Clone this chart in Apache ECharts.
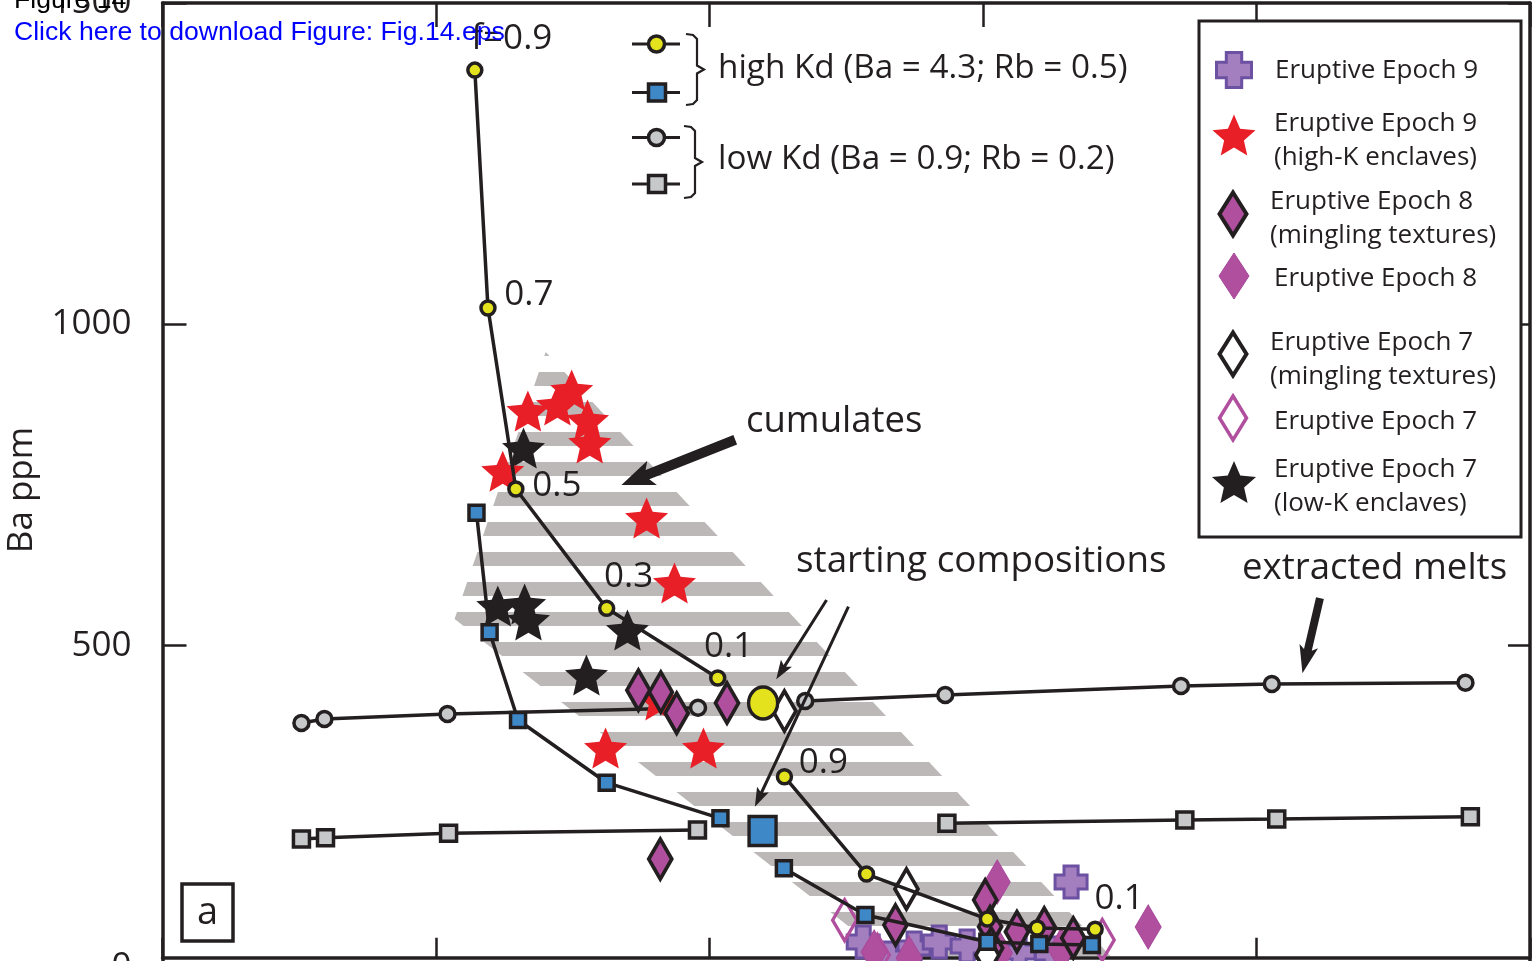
<!DOCTYPE html>
<html>
<head>
<meta charset="utf-8">
<script src="https://cdn.jsdelivr.net/npm/echarts@6/dist/echarts.min.js"></script>
<style>
  html, body { margin: 0; padding: 0; background: #fff; }
  #chart { width: 1534px; height: 961px; }
</style>
</head>
<body>
<div id="chart"></div>
<script>
// Ba (ppm) against Rb (ppm): fractional crystallisation models and enclave / mingled samples

// ---- model curves: [Rb, Ba] at f = 0.1 ... 0.9 ----
const highKdCircleCumulates = [[101.5, 449.8], [81.2, 558.2], [64.6, 743.8], [59.5, 1025.4], [57.1, 1395.6]];
const highKdCircleMelts     = [[113.7, 296.2], [128.7, 144.8], [150.8, 74.8], [159.9, 60.8], [170.5, 58.8]];
const highKdSquareCumulates = [[102.0, 231.5], [81.2, 286.9], [65.0, 384.5], [59.8, 520.9], [57.4, 706.9]];
const highKdSquareMelts     = [[113.6, 153.7], [128.5, 81.1], [150.8, 39.5], [160.3, 35.9], [169.9, 34.4]];
const lowKdCircleCumulates  = [[97.9, 403.5], [52.1, 393.7], [29.6, 386.0], [25.4, 379.7]];
const lowKdCircleMelts      = [[117.5, 414.0], [143.1, 423.3], [186.2, 437.3], [202.8, 440.4], [238.2, 442.4]];
const lowKdSquareCumulates  = [[97.8, 213.3], [52.3, 208.2], [29.8, 201.3], [25.4, 199.3]];
const lowKdSquareMelts      = [[143.4, 223.7], [186.9, 228.8], [203.7, 230.4], [239.1, 234.0]];
const startingCircle = [[109.8, 410.9]];
const startingSquare = [[109.7, 211.7]];

// f labels on the high-Kd circle path
const cumulateFLabels = ['0.1', '0.3', '0.5', '0.7', 'f=0.9'];
const meltFLabels     = ['0.9', '', '', '', '0.1'];

// ---- samples: [Rb, Ba] ----
const epoch9 = [[128.1, 39.0], [137.4, 29.7], [142.0, 39.0], [147.1, 32.8], [156.6, 23.5], [162.5, 21.9], [166.1, 132.4], [132.9, 14.2]];
const epoch9HighK = [[66.8, 865.1], [72.2, 874.4], [74.8, 897.8], [77.7, 851.1], [78.1, 815.3], [62.2, 771.6],
                     [88.5, 698.7], [93.6, 597.6], [81.0, 340.8], [98.9, 340.8], [90.7, 415.6]];
const epoch8Mingling = [[87.0, 430.9], [91.1, 427.8], [94.0, 395.1], [103.2, 410.9], [91.0, 168.0], [134.0, 65.5],
                        [150.4, 104.4], [151.3, 62.8], [156.2, 55.1], [161.2, 60.8], [166.5, 45.3], [151.5, 29.7]];
const epoch8 = [[152.6, 132.4], [180.2, 62.4], [130.1, 23.5], [153.0, 21.9], [164.3, 26.6], [136.5, 14.2]];
const epoch7Mingling = [[113.7, 398.3], [136.0, 121.6], [150.8, 18.8]];
const epoch7 = [[124.7, 73.0], [171.8, 42.2], [130.7, 18.8]];
const epoch7LowK = [[66.0, 807.5], [61.3, 561.7], [66.2, 564.8], [66.9, 539.9], [85.0, 524.3], [77.5, 454.3]];

// outline of the cumulate field [Rb, Ba]
const cumulateOutline = [[70.05, 956.9], [53.4, 541.4], [135.0, 0], [175.2, 0]];

// annotation arrows [Rb, Ba] tail -> tip
const cumulatesArrow = [[104.7, 820.5], [83.9, 750.0]];
const startArrowA = [[121.4, 571.1], [112.2, 447.7]];
const startArrowB = [[125.4, 560.7], [108.3, 249.5]];
const meltsArrow = [[211.6, 574.2], [208.4, 457.1]];

// axis ticks
const xTicks = { min: 0, max: 250, step: 50 };
const yTicks = { min: 0, max: 1500, step: 500 };

// ---------------------------------------------------------------
const INK = '#231f20';
const FONT = '"Open Sans", "Noto Sans", sans-serif';
const YELLOW = '#e4e21c';
const BLUE = '#3f88c8';
const GREY = '#c7c8ca';
const RED = '#e81f27';
const PURPLE = '#b14f9f';
const CROSS_FILL = '#a47fbf';
const CROSS_EDGE = '#6c50a1';
const STRIPE = '#bbb8b7';

// symbol outlines (unit boxes) shared by plot symbols and the key
const STAR_PTS = Array.from({ length: 10 }, (_, i) => {
  const a = (-90 + 36 * i) * Math.PI / 180;
  const r = i % 2 ? 23 : 50;
  return [+(50 + r * Math.cos(a)).toFixed(2), +(50 + r * Math.sin(a)).toFixed(2)];
});
const PLUS_PTS = [[28, 0], [72, 0], [72, 28], [100, 28], [100, 72], [72, 72], [72, 100], [28, 100],
                  [28, 72], [0, 72], [0, 28], [28, 28]];
const DIAMOND_PTS = [[50, 0], [100, 50], [50, 100], [0, 50]];
const toPath = pts => 'path://M' + pts.map(p => p.join(',')).join(' L') + ' Z';
const STAR = toPath(STAR_PTS);
const PLUS = toPath(PLUS_PTS);

const NAMES = {
  e9: 'Eruptive Epoch 9',
  e9k: 'Eruptive Epoch 9\n(high-K enclaves)',
  e8m: 'Eruptive Epoch 8\n(mingling textures)',
  e8: 'Eruptive Epoch 8',
  e7m: 'Eruptive Epoch 7\n(mingling textures)',
  e7: 'Eruptive Epoch 7',
  e7k: 'Eruptive Epoch 7\n(low-K enclaves)'
};

const STYLE = {
  e9:  { color: CROSS_FILL, borderColor: CROSS_EDGE, borderWidth: 3, opacity: 1 },
  e9k: { color: RED, borderWidth: 0, opacity: 1 },
  e8m: { color: PURPLE, borderColor: INK, borderWidth: 4, opacity: 1 },
  e8:  { color: PURPLE, borderColor: '#a6479a', borderWidth: 1, opacity: 1 },
  e7m: { color: '#ffffff', borderColor: INK, borderWidth: 4, opacity: 1 },
  e7:  { color: 'rgba(255,255,255,0)', borderColor: PURPLE, borderWidth: 3.5, opacity: 1 },
  e7k: { color: INK, borderWidth: 0, opacity: 1 }
};

// horizontal hatch used for the cumulate field
const hatch = document.createElement('canvas');
hatch.width = 4; hatch.height = 30;
(function () {
  const g = hatch.getContext('2d');
  g.fillStyle = STRIPE;
  g.fillRect(0, 12, 4, 14);
})();

const fLabelStyle = { show: true, position: 'inside', fontFamily: FONT, fontSize: 35, color: INK };
const cumulateLabelOffsets = [[11, -31], [22, -31], [41, -3], [41, -13], [37, -31]];
const meltLabelOffsets = [[39, -14], null, null, null, [24, -30]];

function labelled(points, texts, offsets) {
  return points.map((p, i) => texts[i]
    ? { value: p, label: Object.assign({}, fLabelStyle, { formatter: texts[i], offset: offsets[i] }) }
    : { value: p });
}

function modelSeries(data, fill, symbol, size, z) {
  return {
    type: 'line', data: data, z: z, symbol: symbol, symbolSize: size, showSymbol: true,
    lineStyle: { color: INK, width: 3.5 },
    itemStyle: { color: fill, borderColor: INK, borderWidth: 3.5, opacity: 1 },
    label: { show: false }, emphasis: { disabled: true }, silent: true
  };
}

function sampleSeries(key, data, symbol, size, z) {
  return {
    name: NAMES[key], type: 'scatter', data: data, z: z, symbol: symbol, symbolSize: size,
    itemStyle: STYLE[key], emphasis: { disabled: true }, silent: true
  };
}

const series = [
  {
    type: 'custom', coordinateSystem: 'cartesian2d', z: 1, silent: true,
    data: [[0, 0]],
    renderItem: function (params, api) {
      return {
        type: 'polygon',
        shape: { points: cumulateOutline.map(p => api.coord(p)) },
        style: { fill: { image: hatch, repeat: 'repeat' }, stroke: null }
      };
    }
  },
  modelSeries(lowKdCircleCumulates, GREY, 'circle', 15, 2),
  modelSeries(lowKdCircleMelts, GREY, 'circle', 15, 2),
  modelSeries(lowKdSquareCumulates, GREY, 'rect', 16, 2),
  modelSeries(lowKdSquareMelts, GREY, 'rect', 16, 2),

  sampleSeries('e7k', epoch7LowK, STAR, [43, 41], 3),
  sampleSeries('e9k', epoch9HighK, STAR, [43, 41], 4),
  sampleSeries('e9', epoch9, PLUS, 32, 5),
  sampleSeries('e7', epoch7, 'diamond', [24, 41], 6),
  sampleSeries('e8', epoch8, 'diamond', [26, 44], 7),
  sampleSeries('e8m', epoch8Mingling, 'diamond', [23, 40], 8),
  sampleSeries('e7m', epoch7Mingling, 'diamond', [23, 40], 9),

  modelSeries(labelled(highKdCircleCumulates, cumulateFLabels, cumulateLabelOffsets), YELLOW, 'circle', 14, 10),
  modelSeries(labelled(highKdCircleMelts, meltFLabels, meltLabelOffsets), YELLOW, 'circle', 14, 10),
  modelSeries(highKdSquareCumulates, BLUE, 'rect', 15, 10),
  modelSeries(highKdSquareMelts, BLUE, 'rect', 15, 10),
  modelSeries(startingCircle, YELLOW, 'circle', [29, 32], 11),
  modelSeries(startingSquare, BLUE, 'rect', [27, 29], 11)
];

const axisLineStyle = { color: INK, width: 3.5 };
const tickStyle = { color: INK, width: 2.5 };

const option = {
  animation: false,
  backgroundColor: '#ffffff',
  grid: { left: 162.5, right: 4, top: 3, bottom: -6.1, containLabel: false, outerBoundsMode: 'none' },
  xAxis: [
    { type: 'value', position: 'bottom', offset: -9.4, min: xTicks.min, max: xTicks.max, interval: xTicks.step,
      axisLine: { show: true, onZero: false, lineStyle: axisLineStyle },
      axisTick: { show: true, inside: true, length: 20, lineStyle: tickStyle },
      axisLabel: { show: false }, splitLine: { show: false } },
    { type: 'value', position: 'top', min: xTicks.min, max: xTicks.max, interval: xTicks.step,
      axisLine: { show: true, onZero: false, lineStyle: axisLineStyle },
      axisTick: { show: true, inside: true, length: 24, lineStyle: tickStyle },
      axisLabel: { show: false }, splitLine: { show: false } }
  ],
  yAxis: [
    { type: 'value', position: 'left', min: yTicks.min, max: yTicks.max, interval: yTicks.step,
      axisLine: { show: true, onZero: false, lineStyle: axisLineStyle },
      axisTick: { show: true, inside: true, length: 24, lineStyle: tickStyle },
      axisLabel: { show: true, margin: 31, fontFamily: FONT, fontSize: 35, color: INK,
                   formatter: v => String(v) },
      splitLine: { show: false } },
    { type: 'value', position: 'right', min: yTicks.min, max: yTicks.max, interval: yTicks.step,
      axisLine: { show: true, onZero: false, lineStyle: axisLineStyle },
      axisTick: { show: true, inside: true, length: 22, lineStyle: tickStyle },
      axisLabel: { show: false }, splitLine: { show: false } }
  ],
  series: series
};

const chart = echarts.init(document.getElementById('chart'), null, { renderer: 'canvas', width: 1534, height: 961 });
chart.setOption(option);

// ---- annotations ----
function px(c) { return chart.convertToPixel({ seriesIndex: 1 }, c); }

function arrowPolygon(seg, shaft, headLen, headW, notch) {
  const a = px(seg[0]), b = px(seg[1]);
  const dx = b[0] - a[0], dy = b[1] - a[1];
  const L = Math.hypot(dx, dy);
  const ux = dx / L, uy = dy / L, vx = -uy, vy = ux;
  const bx = b[0] - ux * headLen, by = b[1] - uy * headLen;
  const cx = bx - ux * notch, cy = by - uy * notch;
  return [
    b,
    [cx + vx * headW / 2, cy + vy * headW / 2],
    [bx + vx * shaft / 2, by + vy * shaft / 2],
    [a[0] + vx * shaft / 2, a[1] + vy * shaft / 2],
    [a[0] - vx * shaft / 2, a[1] - vy * shaft / 2],
    [bx - vx * shaft / 2, by - vy * shaft / 2],
    [cx - vx * headW / 2, cy - vy * headW / 2]
  ];
}

function arrow(seg, shaft, headLen, headW, notch) {
  return { type: 'polygon', z: 25, silent: true,
           shape: { points: arrowPolygon(seg, shaft, headLen, headW, notch) },
           style: { fill: INK } };
}

function txt(x, y, text, size, extra) {
  return { type: 'text', x: x, y: y, z: 25, silent: true,
    style: Object.assign({ text: text, fontFamily: FONT, fontSize: size, fill: INK,
                           align: 'left', verticalAlign: 'middle' }, extra || {}) };
}

// fit a unit outline into a w x h box centred on (cx, cy)
function fitShape(pts, cx, cy, w, h) {
  const xs = pts.map(p => p[0]), ys = pts.map(p => p[1]);
  const x0 = Math.min(...xs), x1 = Math.max(...xs), y0 = Math.min(...ys), y1 = Math.max(...ys);
  return pts.map(p => [cx - w / 2 + (p[0] - x0) / (x1 - x0) * w, cy - h / 2 + (p[1] - y0) / (y1 - y0) * h]);
}

// key rows for the sample symbols
const keyRows = [
  { key: 'e9',  pts: PLUS_PTS,    icon: [1234, 70, 35, 35],  text: [1275, 70.5] },
  { key: 'e9k', pts: STAR_PTS,    icon: [1234, 135, 43, 41], text: [1274, 141] },
  { key: 'e8m', pts: DIAMOND_PTS, icon: [1233, 214, 27, 43], text: [1270, 219] },
  { key: 'e8',  pts: DIAMOND_PTS, icon: [1234, 276, 30, 46], text: [1274, 279] },
  { key: 'e7m', pts: DIAMOND_PTS, icon: [1233, 354, 27, 43], text: [1270, 359.5] },
  { key: 'e7',  pts: DIAMOND_PTS, icon: [1233, 418, 27, 44], text: [1274, 422] },
  { key: 'e7k', pts: STAR_PTS,    icon: [1234, 482, 44, 42], text: [1274, 487] }
];
const keyElements = [];
keyRows.forEach(r => {
  const s = STYLE[r.key];
  keyElements.push({
    type: 'polygon', z: 26, silent: true,
    shape: { points: fitShape(r.pts, r.icon[0], r.icon[1], r.icon[2], r.icon[3]) },
    style: { fill: s.color, stroke: s.borderWidth ? s.borderColor : null, lineWidth: s.borderWidth || 0,
             lineJoin: 'miter' }
  });
  keyElements.push(txt(r.text[0], r.text[1], NAMES[r.key], 26, { lineHeight: 34 }));
});

function keyLine(y) {
  return { type: 'line', z: 25, silent: true, shape: { x1: 632, y1: y, x2: 680, y2: y },
           style: { stroke: INK, lineWidth: 3 } };
}
function keyCircle(y, fill) {
  return { type: 'circle', z: 26, silent: true, shape: { cx: 656.5, cy: y, r: 8 },
           style: { fill: fill, stroke: INK, lineWidth: 3.5 } };
}
function keySquare(y, fill) {
  return { type: 'rect', z: 26, silent: true, shape: { x: 648.5, y: y - 8.5, width: 17, height: 17 },
           style: { fill: fill, stroke: INK, lineWidth: 3.5 } };
}
function brace(x0, x1, y0, y1, tipX) {
  const ym = (y0 + y1) / 2;
  return { type: 'polyline', z: 25, silent: true,
    shape: { points: [[x0, y0], [x1 - 4, y0 + 1], [x1, y0 + 5], [x1, ym - 4], [tipX, ym], [x1, ym + 4],
                      [x1, y1 - 5], [x1 - 4, y1 - 1], [x0, y1]] },
    style: { stroke: INK, lineWidth: 2.2, fill: null } };
}

const axisTitle = txt(22, 490, 'Ba ppm', 35, { align: 'center' });
axisTitle.rotation = Math.PI / 2;

const graphic = [
  // key box for the sample symbols
  { type: 'rect', z: 20, silent: true, shape: { x: 1199, y: 21, width: 322, height: 516 },
    style: { fill: '#ffffff', stroke: INK, lineWidth: 3 } },
  ...keyElements,

  // panel letter
  { type: 'rect', z: 20, silent: true, shape: { x: 182, y: 884, width: 51, height: 57 },
    style: { fill: '#ffffff', stroke: INK, lineWidth: 3.5 } },
  txt(207.5, 913, 'a', 38, { align: 'center' }),

  // model key
  keyLine(44), keyCircle(44, YELLOW),
  keyLine(92.5), keySquare(92.5, BLUE),
  keyLine(137.5), keyCircle(137.5, GREY),
  keyLine(184), keySquare(184, GREY),
  brace(686, 697, 34, 105, 704),
  brace(684, 695, 126, 198, 702),
  txt(718, 69, 'high Kd (Ba = 4.3; Rb = 0.5)', 33.3),
  txt(718, 160, 'low Kd (Ba = 0.9; Rb = 0.2)', 33.3),

  // callouts
  txt(746, 422, 'cumulates', 36.5),
  txt(796, 562, 'starting compositions', 36.8),
  txt(1242, 569, 'extracted melts', 36.6),
  arrow(cumulatesArrow, 10, 28, 26, 5),
  arrow(startArrowA, 3, 16, 13, 3),
  arrow(startArrowB, 3, 16, 13, 3),
  arrow(meltsArrow, 8, 24, 19, 4),

  axisTitle,

  // page header
  txt(14, 1, 'Figure 14', 26.6, { fontFamily: '"Liberation Sans", Arial, sans-serif', fill: '#000000' }),
  txt(14, 33, 'Click here to download Figure: Fig.14.eps', 26.6,
      { fontFamily: '"Liberation Sans", Arial, sans-serif', fill: '#0000ff' })
];

chart.setOption({ graphic: graphic });
</script>
</body>
</html>
